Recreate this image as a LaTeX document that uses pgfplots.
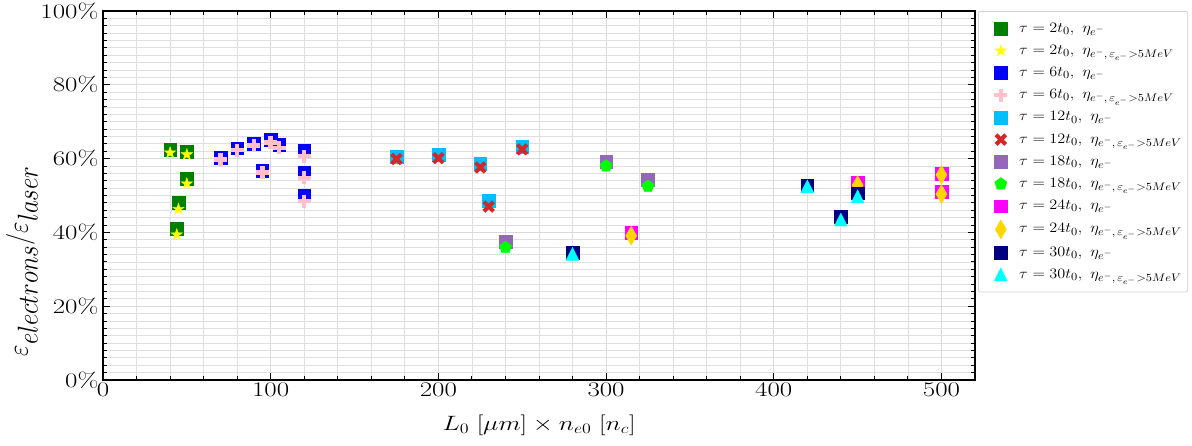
\documentclass[border=0pt]{standalone}
\usepackage{graphicx}
\usepackage{pgfplots}
\pgfplotsset{compat=1.18}
\usetikzlibrary{plotmarks}
\definecolor{cgreen}{RGB}{0,128,0}
\definecolor{cyellow}{RGB}{255,255,0}
\definecolor{cblue}{RGB}{0,0,255}
\definecolor{cpink}{RGB}{255,192,203}
\definecolor{cdsb}{RGB}{0,191,255}
\definecolor{cred}{RGB}{214,39,40}
\definecolor{cpurple}{RGB}{148,103,189}
\definecolor{clime}{RGB}{0,255,0}
\definecolor{cmag}{RGB}{255,0,255}
\definecolor{cgold}{RGB}{255,215,0}
\definecolor{cnavy}{RGB}{0,0,128}
\definecolor{ccyan}{RGB}{0,255,255}
\pgfdeclareplotmark{fstar}{%
  \pgfpathmoveto{\pgfqpointpolar{90}{\pgfplotmarksize}}%
  \pgfpathlineto{\pgfqpointpolar{126}{0.382\pgfplotmarksize}}%
  \pgfpathlineto{\pgfqpointpolar{162}{\pgfplotmarksize}}%
  \pgfpathlineto{\pgfqpointpolar{198}{0.382\pgfplotmarksize}}%
  \pgfpathlineto{\pgfqpointpolar{234}{\pgfplotmarksize}}%
  \pgfpathlineto{\pgfqpointpolar{270}{0.382\pgfplotmarksize}}%
  \pgfpathlineto{\pgfqpointpolar{306}{\pgfplotmarksize}}%
  \pgfpathlineto{\pgfqpointpolar{342}{0.382\pgfplotmarksize}}%
  \pgfpathlineto{\pgfqpointpolar{18}{\pgfplotmarksize}}%
  \pgfpathlineto{\pgfqpointpolar{54}{0.382\pgfplotmarksize}}%
  \pgfpathclose\pgfusepathqfillstroke}
\newcommand{\lgd}[1]{\scalebox{1.13}[1]{$#1$}}
\begin{document}
\begin{tikzpicture}
\path[use as bounding box] (0,0) rectangle (1192pt,446pt);
\begin{axis}[
  at={(103pt,66pt)}, anchor=south west,
  scale only axis, width=872pt, height=369pt,
  xmin=0, xmax=520, ymin=0, ymax=100,
  xtick={0,100,...,500}, ytick={0,20,...,100},
  minor x tick num=4, minor y tick num=9,
  yticklabel={$\pgfmathprintnumber{\tick}\%$},
  tick align=inside,
  major tick length=7pt, minor tick length=4pt,
  every tick/.style={black, line width=0.9pt},
  axis line style={black, line width=1.3pt},
  grid=both,
  major grid style={gray!30, line width=1.1pt},
  minor grid style={gray!25, line width=0.8pt},
  tick label style={font=\fontsize{20}{24}\selectfont, xscale=1.3},
  xlabel={$L_0\ [\mu m] \times n_{e0}\ [n_c]$},
  xlabel style={font=\fontsize{20}{24}\selectfont, xscale=1.25, at={(axis description cs:0.5,0)}, anchor=center, yshift=-45pt},
  ylabel={\scalebox{1}[1.15]{$\varepsilon_{\textstyle electrons}/\varepsilon_{\textstyle laser}$}},
  ylabel style={font=\fontsize{30}{34}\selectfont, at={(axis description cs:-0.0929,0.322)}, anchor=center},
  only marks,
  legend image code/.code={\path (0pt,0pt) (34pt,0pt); \draw[mark repeat=2,mark phase=2,#1] plot coordinates {(0pt,0pt)(17pt,0pt)(34pt,0pt)};},
  legend style={at={(1.0035,1)}, anchor=north west, draw=gray!35, line width=0.8pt, rounded corners=2pt, fill=white,
    font=\fontsize{15.5}{18}\selectfont, inner xsep=5pt, inner ysep=8.7pt, row sep=5.2pt, column sep=0pt,
    nodes={inner sep=1pt, text height=11pt, text depth=4pt}},
  legend cell align=left,
]
\addplot[mark=square*, mark size=6.35pt, mark options={fill=cgreen, draw=cgreen, line width=0.4pt}] coordinates {
(40,62.5) (50,61.9) (50,54.6) (45,48.1) (44,41.0)};
\addlegendentry{\lgd{\tau = 2t_0,\ \eta_{e^-}}}
\addplot[mark=fstar, mark size=6pt, mark options={fill=cyellow, draw=cyellow, line width=0.4pt}] coordinates {
(40,61.6) (50,61.1) (50,53.2) (45,46.3) (44,39.4)};
\addlegendentry{\lgd{\tau = 2t_0,\ \eta_{e^-,\,\varepsilon_{e^-}>5MeV}}}
\addplot[mark=square*, mark size=6.35pt, mark options={fill=cblue, draw=cblue, line width=0.4pt}] coordinates {
(70,60.3) (80,62.8) (90,64.1) (100,65.2) (105,63.7) (95,56.7) (120,62.1) (120,56.2) (120,49.9)};
\addlegendentry{\lgd{\tau = 6t_0,\ \eta_{e^-}}}
\addplot[mark=+, mark size=6.5pt, mark options={draw=cpink, line width=4.5pt}] coordinates {
(70,59.8) (80,62.3) (90,63.5) (100,64.4) (105,62.9) (95,56.2) (120,60.7) (120,54.8) (120,48.5)};
\addlegendentry{\lgd{\tau = 6t_0,\ \eta_{e^-,\,\varepsilon_{e^-}>5MeV}}}
\addplot[mark=square*, mark size=6.35pt, mark options={fill=cdsb, draw=cdsb, line width=0.4pt}] coordinates {
(175,60.5) (200,61.0) (225,58.7) (230,48.5) (250,63.2)};
\addlegendentry{\lgd{\tau = 12t_0,\ \eta_{e^-}}}
\addplot[mark=x, mark size=6.8pt, mark options={draw=cred, line width=4pt}] coordinates {
(175,59.9) (200,60.1) (225,57.6) (230,47.0) (250,62.5)};
\addlegendentry{\lgd{\tau = 12t_0,\ \eta_{e^-,\,\varepsilon_{e^-}>5MeV}}}
\addplot[mark=square*, mark size=6.35pt, mark options={fill=cpurple, draw=cpurple, line width=0.4pt}] coordinates {
(240,37.4) (300,59.1) (325,54.3)};
\addlegendentry{\lgd{\tau = 18t_0,\ \eta_{e^-}}}
\addplot[mark=pentagon*, mark size=6.4pt, mark options={fill=clime, draw=clime, line width=0.4pt}] coordinates {
(240,35.9) (300,58.0) (325,52.5)};
\addlegendentry{\lgd{\tau = 18t_0,\ \eta_{e^-,\,\varepsilon_{e^-}>5MeV}}}
\addplot[mark=square*, mark size=6.35pt, mark options={fill=cmag, draw=cmag, line width=0.4pt}] coordinates {
(315,40.0) (450,53.6) (500,56.0) (500,51.0)};
\addlegendentry{\lgd{\tau = 24t_0,\ \eta_{e^-}}}
\addplot[mark=diamond*, mark size=9.5pt, mark options={fill=cgold, draw=cgold, line width=0.4pt, xscale=0.78}] coordinates {
(315,39.1) (450,52.8) (500,55.6) (500,50.4)};
\addlegendentry{\lgd{\tau = 24t_0,\ \eta_{e^-,\,\varepsilon_{e^-}>5MeV}}}
\addplot[mark=square*, mark size=6.35pt, mark options={fill=cnavy, draw=cnavy, line width=0.4pt}] coordinates {
(280,34.5) (420,52.8) (440,44.3) (450,50.6)};
\addlegendentry{\lgd{\tau = 30t_0,\ \eta_{e^-}}}
\addplot[mark=triangle*, mark size=7.5pt, mark options={fill=ccyan, draw=ccyan, line width=0.4pt, yscale=1.15, yshift=-1.6pt}] coordinates {
(280,34.1) (420,52.4) (440,43.4) (450,49.7)};
\addlegendentry{\lgd{\tau = 30t_0,\ \eta_{e^-,\,\varepsilon_{e^-}>5MeV}}}
\end{axis}
\end{tikzpicture}
\end{document}
